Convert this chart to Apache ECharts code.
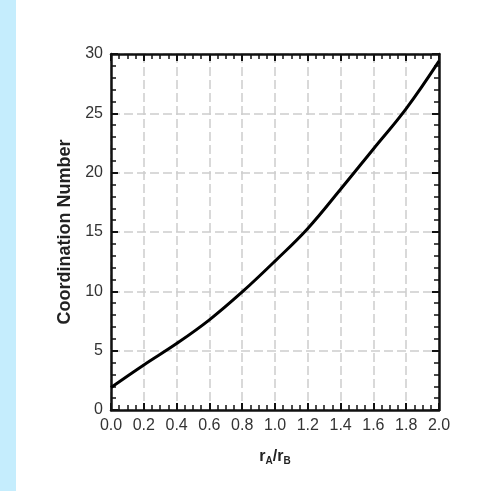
<!DOCTYPE html>
<html>
<head>
<meta charset="utf-8">
<script src="https://cdn.jsdelivr.net/npm/echarts@6/dist/echarts.min.js"></script>
<style>html,body{margin:0;padding:0;background:#fff;}#c{width:480px;height:491px;}</style>
</head>
<body>
<div id="c"></div>
<script>
const ratios = [0.0, 0.2, 0.4, 0.6, 0.8, 1.0, 1.2, 1.4, 1.6, 1.8, 2.0];
const coordination = [1.9, 3.8, 5.6, 7.6, 9.95, 12.55, 15.3, 18.6, 22.0, 25.4, 29.4];
const xTicks = {min: 0, max: 2, interval: 0.2};
const yTicks = {min: 0, max: 30, interval: 5};

const chart = echarts.init(document.getElementById('c'));
const font = '"Liberation Sans", Arial, sans-serif';
const tickCommon = {show: true, inside: true, length: 7, lineStyle: {color: '#111', width: 2}};
const minorCommon = {show: true, length: 5, lineStyle: {color: '#111', width: 1.5}};
const axisLineCommon = {show: true, onZero: false, lineStyle: {color: '#111', width: 2.5}};
const gridLine = {show: true, lineStyle: {color: '#cdcdcd', width: 1.5, type: [9, 4]}};
chart.setOption({
  animation: false,
  backgroundColor: '#fff',
  graphic: [{type: 'rect', left: 0, top: 0, shape: {width: 16, height: 491}, style: {fill: '#c5edfd'}, silent: true}],
  grid: {left: 111, right: 41, top: 54, bottom: 81},
  xAxis: [{
    type: 'value', min: xTicks.min, max: xTicks.max, interval: xTicks.interval,
    name: '{r|r}{s|A}{r|/r}{s|B}', nameLocation: 'middle', nameGap: 38,
    nameTextStyle: {rich: {r: {fontFamily: font, fontWeight: 'bold', fontSize: 16, color: '#222'}, s: {fontFamily: font, fontWeight: 'bold', fontSize: 10, color: '#222', verticalAlign: 'bottom', padding: [8, 0, 0, 0]}}},
    axisLine: axisLineCommon, axisTick: tickCommon, minorTick: Object.assign({splitNumber: 4}, minorCommon),
    axisLabel: {fontFamily: font, fontSize: 16, color: '#333', margin: 8, formatter: v => v.toFixed(1)},
    splitLine: gridLine
  }, {
    type: 'value', position: 'top', min: xTicks.min, max: xTicks.max, interval: xTicks.interval,
    axisLine: axisLineCommon, axisTick: tickCommon, minorTick: Object.assign({splitNumber: 4}, minorCommon),
    axisLabel: {show: false}, splitLine: {show: false}
  }],
  yAxis: [{
    type: 'value', min: yTicks.min, max: yTicks.max, interval: yTicks.interval,
    name: 'Coordination Number', nameLocation: 'middle', nameGap: 36, nameRotate: 90,
    nameTextStyle: {fontFamily: font, fontWeight: 'bold', fontSize: 18, color: '#222'},
    axisLine: axisLineCommon, axisTick: tickCommon, minorTick: Object.assign({splitNumber: 5}, minorCommon),
    axisLabel: {fontFamily: font, fontSize: 16, color: '#333', margin: 8},
    splitLine: gridLine
  }, {
    type: 'value', position: 'right', min: yTicks.min, max: yTicks.max, interval: yTicks.interval,
    axisLine: axisLineCommon, axisTick: tickCommon, minorTick: Object.assign({splitNumber: 5}, minorCommon),
    axisLabel: {show: false}, splitLine: {show: false}
  }],
  series: [{
    type: 'line', xAxisIndex: 0, yAxisIndex: 0, smooth: 0.4, showSymbol: false,
    lineStyle: {color: '#000', width: 3},
    data: ratios.map((r, i) => [r, coordination[i]])
  }]
});
</script>
</body>
</html>
